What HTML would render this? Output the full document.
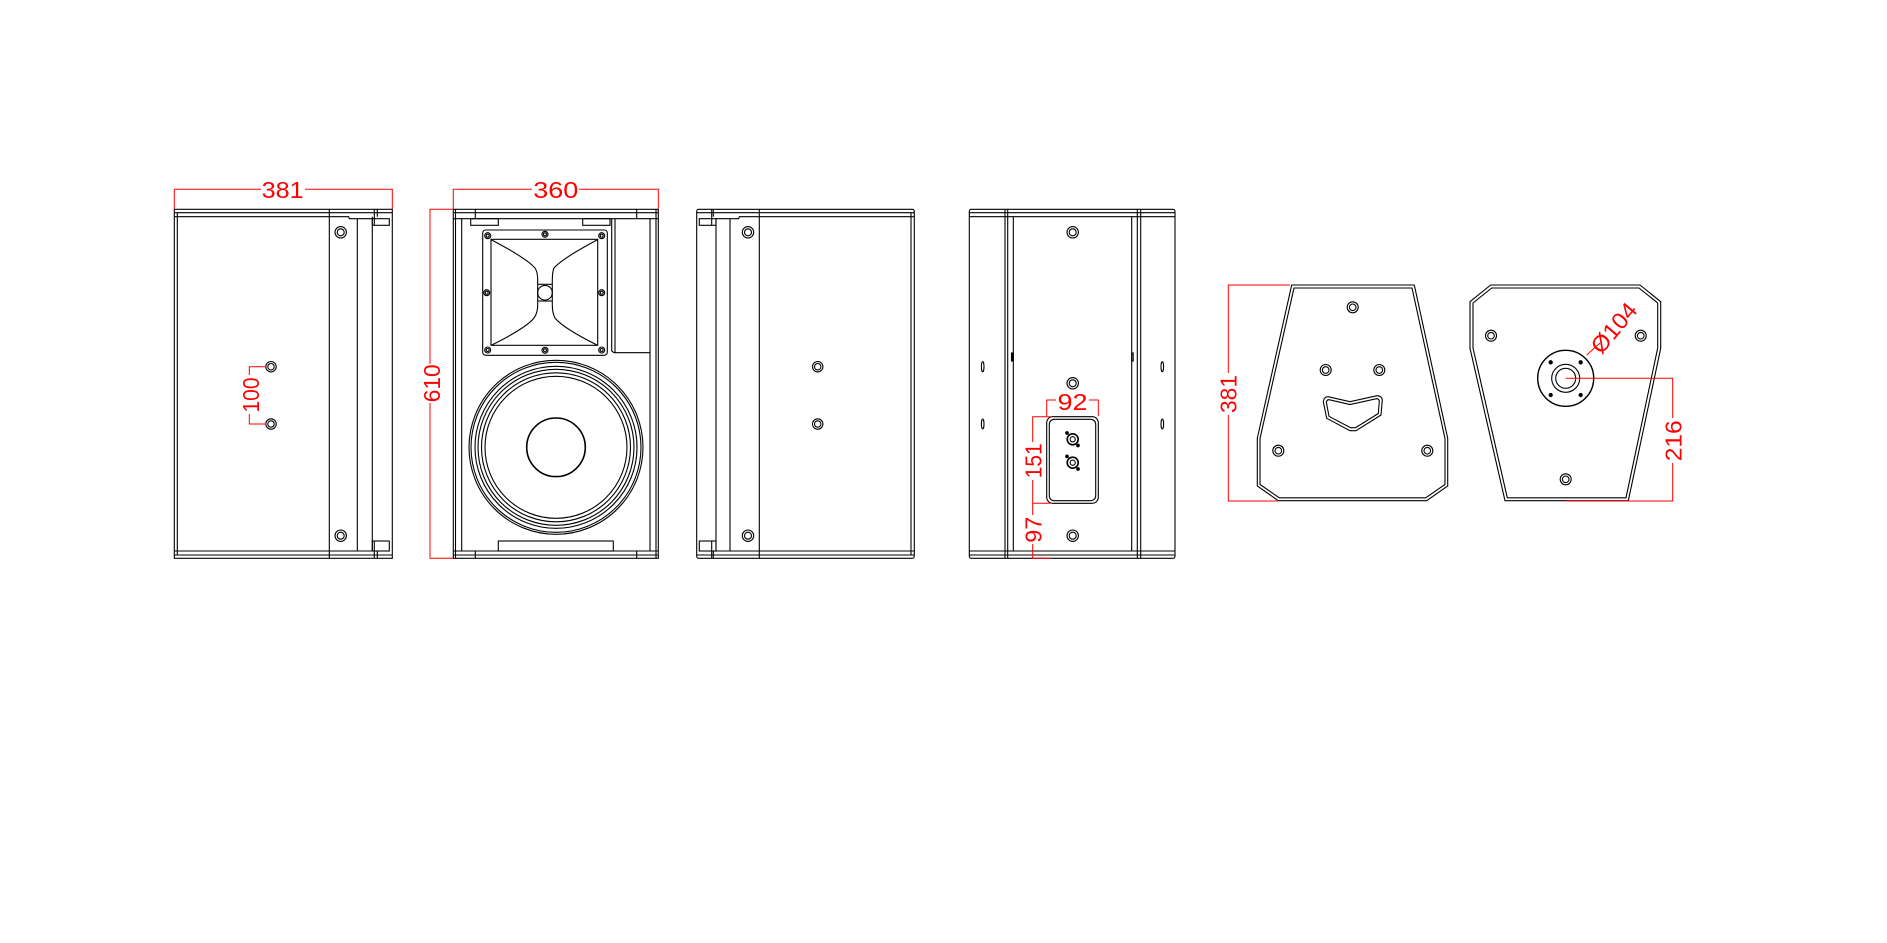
<!DOCTYPE html>
<html><head><meta charset="utf-8"><style>
html,body{margin:0;padding:0;background:#fff;}
svg{display:block;}
.k{fill:none;stroke:#000;stroke-width:1.1;}
.r{fill:none;stroke:#f00;stroke-width:1;}
.t{fill:#f00;font-family:"Liberation Sans",sans-serif;font-size:23px;}
</style></head><body>
<svg width="1887" height="943" viewBox="0 0 1887 943" xmlns="http://www.w3.org/2000/svg">
<rect width="1887" height="943" fill="#fff"/>
<g class="k">
<!-- VIEW 1: left side -->
<rect x="174.3" y="209.3" width="218" height="349"/>
<line x1="177.3" y1="212.7" x2="177.3" y2="555"/>
<line x1="174.3" y1="212.7" x2="392.3" y2="212.7"/>
<line x1="174.3" y1="216.7" x2="349" y2="216.7"/>
<line x1="349" y1="216.7" x2="349" y2="218.7"/>
<line x1="349" y1="218.7" x2="372.3" y2="218.7"/>
<line x1="174.3" y1="551" x2="372.3" y2="551"/>
<line x1="174.3" y1="555" x2="392.3" y2="555"/>
<line x1="329.3" y1="209.3" x2="329.3" y2="558.3"/>
<line x1="357.3" y1="218.7" x2="357.3" y2="551"/>
<line x1="372.3" y1="216.7" x2="372.3" y2="551"/>
<rect x="372.3" y="218.7" width="17" height="6.6"/>
<rect x="372.3" y="541" width="17" height="10"/>
<line x1="374.3" y1="209.3" x2="374.3" y2="225"/>
<line x1="377.3" y1="209.3" x2="377.3" y2="216.7"/>
<line x1="374.3" y1="541" x2="374.3" y2="558.3"/>
<line x1="377.3" y1="551" x2="377.3" y2="558.3"/>
<circle cx="340.7" cy="232.3" r="5.7"/><circle cx="340.7" cy="232.3" r="3.5"/>
<circle cx="340.7" cy="535.7" r="5.7"/><circle cx="340.7" cy="535.7" r="3.5"/>
<circle cx="271" cy="366.7" r="5.2"/><circle cx="271" cy="366.7" r="3.2"/>
<circle cx="271" cy="424" r="5.2"/><circle cx="271" cy="424" r="3.2"/>

<!-- VIEW 2: front -->
<rect x="453.3" y="209.3" width="205" height="349"/>
<line x1="453.3" y1="212.7" x2="658.3" y2="212.7"/>
<line x1="453.3" y1="218.7" x2="658.3" y2="218.7"/>
<line x1="453.3" y1="551" x2="658.3" y2="551"/>
<line x1="453.3" y1="555" x2="658.3" y2="555"/>
<line x1="461.7" y1="218.7" x2="461.7" y2="551"/>
<line x1="650" y1="218.7" x2="650" y2="551"/>
<line x1="455.5" y1="209.3" x2="455.5" y2="558.3"/>
<line x1="656" y1="209.3" x2="656" y2="558.3"/>
<line x1="475.3" y1="209.3" x2="475.3" y2="218.7"/>
<line x1="636.7" y1="209.3" x2="636.7" y2="218.7"/>
<line x1="475.3" y1="551" x2="475.3" y2="558.3"/>
<line x1="636.7" y1="551" x2="636.7" y2="558.3"/>
<rect x="470.7" y="218.7" width="27.6" height="6.6"/>
<rect x="582.7" y="218.7" width="27.3" height="6.6"/>
<line x1="611.7" y1="218.7" x2="611.7" y2="351"/>
<line x1="615" y1="218.7" x2="615" y2="352.7"/>
<line x1="611.7" y1="351" x2="614" y2="352.7"/>
<line x1="614" y1="352.7" x2="650" y2="352.7"/>
<rect x="482.7" y="230" width="124.6" height="125.3" rx="3"/>
<rect x="491" y="239.3" width="106.7" height="106"/>
<path d="M491.7,240 Q526,258 535,268 Q537.7,272 537.7,280 L537.7,305 Q537.7,313 534,318 Q526,328 491.7,345"/>
<path d="M597,240 Q563,258 554,268 Q552.3,272 552.3,280 L552.3,305 Q552.3,313 555,318 Q563,328 597,345"/>
<line x1="537.7" y1="284.3" x2="552.3" y2="284.3"/>
<line x1="537.7" y1="301" x2="552.3" y2="301"/>
<circle cx="545" cy="292.7" r="7.3"/>
<g>
<circle cx="487.7" cy="235.7" r="3"/><circle cx="487.7" cy="235.7" r="1.5"/>
<circle cx="545" cy="234.3" r="3"/><circle cx="545" cy="234.3" r="1.5"/>
<circle cx="601.7" cy="235.7" r="3"/><circle cx="601.7" cy="235.7" r="1.5"/>
<circle cx="486.7" cy="292.7" r="3"/><circle cx="486.7" cy="292.7" r="1.5"/>
<circle cx="601.7" cy="292.7" r="3"/><circle cx="601.7" cy="292.7" r="1.5"/>
<circle cx="487.7" cy="350" r="3"/><circle cx="487.7" cy="350" r="1.5"/>
<circle cx="545" cy="350.3" r="3"/><circle cx="545" cy="350.3" r="1.5"/>
<circle cx="601.7" cy="350" r="3"/><circle cx="601.7" cy="350" r="1.5"/>
</g>
<circle cx="556" cy="447.3" r="87"/>
<circle cx="556" cy="447.3" r="85"/>
<circle cx="556" cy="447.3" r="81"/>
<circle cx="556" cy="447.3" r="78"/>
<circle cx="556" cy="447.3" r="74.5"/>
<circle cx="556" cy="447.3" r="71"/>
<circle cx="556" cy="447.3" r="29.3" stroke-width="1.6"/>
<rect x="498.3" y="541" width="115" height="10"/>

<!-- VIEW 3: right side -->
<rect x="696.7" y="209.3" width="217.6" height="349" rx="2"/>
<line x1="696.7" y1="212.7" x2="914.3" y2="212.7"/>
<line x1="739" y1="216.7" x2="914.3" y2="216.7"/>
<line x1="716" y1="218.7" x2="739" y2="218.7"/>
<line x1="739" y1="216.7" x2="739" y2="218.7"/>
<line x1="716" y1="551" x2="914.3" y2="551"/>
<line x1="696.7" y1="555" x2="914.3" y2="555"/>
<line x1="911" y1="212.7" x2="911" y2="555"/>
<line x1="711.7" y1="209.3" x2="711.7" y2="225"/>
<line x1="713.3" y1="209.3" x2="713.3" y2="216.7"/>
<line x1="711.7" y1="541" x2="711.7" y2="558.3"/>
<line x1="713.3" y1="551" x2="713.3" y2="558.3"/>
<rect x="699.3" y="218.7" width="16.7" height="6.6"/>
<rect x="699.3" y="541" width="16.7" height="10"/>
<line x1="716" y1="218.7" x2="716" y2="551"/>
<line x1="730" y1="218.7" x2="730" y2="551"/>
<line x1="759.3" y1="209.3" x2="759.3" y2="558.3"/>
<circle cx="748" cy="232.3" r="5.7"/><circle cx="748" cy="232.3" r="3.5"/>
<circle cx="748" cy="535.7" r="5.7"/><circle cx="748" cy="535.7" r="3.5"/>
<circle cx="817.7" cy="366.7" r="5.2"/><circle cx="817.7" cy="366.7" r="3.2"/>
<circle cx="817.7" cy="424" r="5.2"/><circle cx="817.7" cy="424" r="3.2"/>

<!-- VIEW 4: back -->
<rect x="969.3" y="209.3" width="205.7" height="349" rx="2"/>
<line x1="969.3" y1="212.7" x2="1175" y2="212.7"/>
<line x1="969.3" y1="216.7" x2="1175" y2="216.7"/>
<line x1="969.3" y1="551" x2="1175" y2="551"/>
<line x1="969.3" y1="555" x2="1175" y2="555"/>
<line x1="1005" y1="209.3" x2="1005" y2="558.3"/>
<line x1="1007.7" y1="209.3" x2="1007.7" y2="558.3"/>
<line x1="1013.3" y1="216.7" x2="1013.3" y2="551"/>
<line x1="1131.7" y1="216.7" x2="1131.7" y2="551"/>
<line x1="1137.3" y1="209.3" x2="1137.3" y2="558.3"/>
<line x1="1140.7" y1="209.3" x2="1140.7" y2="558.3"/>
<rect x="1011.5" y="353" width="1.8" height="8" fill="#000"/>
<rect x="1131.7" y="353" width="1.5" height="8"/>
<ellipse cx="982.7" cy="366.7" rx="1.3" ry="5"/>
<ellipse cx="982.7" cy="424" rx="1.3" ry="5"/>
<ellipse cx="1162.3" cy="366.7" rx="1.3" ry="5"/>
<ellipse cx="1162.3" cy="424" rx="1.3" ry="5"/>
<circle cx="1072.7" cy="232.3" r="5.7"/><circle cx="1072.7" cy="232.3" r="3.5"/>
<circle cx="1072.7" cy="383.3" r="5.7"/><circle cx="1072.7" cy="383.3" r="3.5"/>
<circle cx="1072.7" cy="535.7" r="5.7"/><circle cx="1072.7" cy="535.7" r="3.5"/>
<rect x="1046.7" y="416.7" width="51.6" height="86.6" rx="6"/>
<rect x="1049.3" y="419.3" width="46.4" height="81.4" rx="5"/>
<circle cx="1072.7" cy="439.3" r="5.5" stroke-width="1.6"/><circle cx="1072.7" cy="439.3" r="2.6"/>
<circle cx="1072.7" cy="462.7" r="5.5" stroke-width="1.6"/><circle cx="1072.7" cy="462.7" r="2.6"/>
<circle cx="1067" cy="433" r="1.3" fill="#000"/><circle cx="1078" cy="445.5" r="1.3" fill="#000"/>
<circle cx="1067" cy="456.4" r="1.3" fill="#000"/><circle cx="1078" cy="469" r="1.3" fill="#000"/>

<!-- VIEW 5: top trapezoid -->
<polygon points="1291.7,285 1414.3,285 1447.7,438.3 1447.7,486 1426.7,500.7 1278.3,500.7 1257.3,486 1257.3,438.3"/>
<polygon points="1294,288 1412,288 1445,438.6 1445,484.5 1425.7,497.8 1279.3,497.8 1260,484.5 1260,438.6"/>
<circle cx="1352.7" cy="307.3" r="5.5"/><circle cx="1352.7" cy="307.3" r="3.3"/>
<circle cx="1325.7" cy="370" r="5.5"/><circle cx="1325.7" cy="370" r="3.3"/>
<circle cx="1379.3" cy="370" r="5.5"/><circle cx="1379.3" cy="370" r="3.3"/>
<circle cx="1278.3" cy="450.7" r="5.5"/><circle cx="1278.3" cy="450.7" r="3.3"/>
<circle cx="1427.3" cy="450.7" r="5.5"/><circle cx="1427.3" cy="450.7" r="3.3"/>
<path d="M1328,396.7 L1350,401.7 L1377,395.7 Q1382,396 1382.3,400 L1381,415 L1356,430.7 L1350,430.7 L1326.7,418.3 L1323.3,401.7 Q1324,396.7 1328,396.7 Z"/>
<path d="M1329,399.7 L1350,404.5 L1376.5,398.7 Q1379,399 1379.3,401 L1378.3,413.5 L1355.5,427.7 L1350.5,427.7 L1329,416.3 L1326.3,402 Q1327,399.7 1329,399.7 Z"/>

<!-- VIEW 6: bottom trapezoid -->
<polygon points="1490.7,285 1640,285 1660.7,301.7 1660.7,348.3 1628.3,500.7 1505,500.7 1470,348.3 1470,301.7"/>
<polygon points="1491.7,288 1639,288 1657.7,303 1657.7,348 1626,497.8 1507.3,497.8 1473,348 1473,303"/>
<circle cx="1491" cy="335.7" r="5.5"/><circle cx="1491" cy="335.7" r="3.3"/>
<circle cx="1640.7" cy="335.7" r="5.5"/><circle cx="1640.7" cy="335.7" r="3.3"/>
<circle cx="1565.7" cy="479.3" r="5.5"/><circle cx="1565.7" cy="479.3" r="3.3"/>
<circle cx="1565.7" cy="378.3" r="28" stroke-width="1.4"/>
<circle cx="1565.7" cy="378.3" r="14"/>
<circle cx="1565.7" cy="378.3" r="10"/>
<circle cx="1550.7" cy="362.3" r="1.6" fill="#000"/><circle cx="1580.7" cy="362.3" r="1.6" fill="#000"/>
<circle cx="1550.7" cy="395" r="1.6" fill="#000"/><circle cx="1580.7" cy="395" r="1.6" fill="#000"/>
</g>

<!-- DIMENSIONS -->
<g class="r">
<polyline points="174.3,209 174.3,189.3 261,189.3"/><polyline points="305,189.3 392.3,189.3 392.3,209"/>
<polyline points="453.3,209 453.3,189.3 532,189.3"/><polyline points="579,189.3 658.3,189.3 658.3,209"/>
<polyline points="453,209.3 430,209.3 430,364"/><polyline points="430,403 430,558.3 453,558.3"/>
<polyline points="266,366.7 249.3,366.7 249.3,375"/><polyline points="249.3,414 249.3,424 266,424"/>
<polyline points="1046.7,416 1046.7,400 1056,400"/><polyline points="1089,400 1098.3,400 1098.3,416"/>
<polyline points="1052,416.7 1032.7,416.7 1032.7,442"/><polyline points="1032.7,480 1032.7,515"/>
<line x1="1032.7" y1="503.3" x2="1052" y2="503.3"/>
<polyline points="1032.7,544 1032.7,558.3 1052,558.3"/>
<polyline points="1290,285 1228.3,285 1228.3,373"/><polyline points="1228.3,415 1228.3,501 1278,501"/>
<polyline points="1565.7,378.3 1672.7,378.3 1672.7,418"/><polyline points="1672.7,463 1672.7,501 1565.7,501"/>
<line x1="1586.7" y1="355" x2="1600" y2="343"/>
</g>
<g class="t">
<text x="282.7" y="198" text-anchor="middle" textLength="42" lengthAdjust="spacingAndGlyphs">381</text>
<text x="555.8" y="198" text-anchor="middle" textLength="45" lengthAdjust="spacingAndGlyphs">360</text>
<text transform="translate(440,383.3) rotate(-90)" text-anchor="middle" textLength="38" lengthAdjust="spacingAndGlyphs">610</text>
<text transform="translate(259,395) rotate(-90)" text-anchor="middle" textLength="35" lengthAdjust="spacingAndGlyphs">100</text>
<text x="1072.5" y="410" text-anchor="middle" textLength="30" lengthAdjust="spacingAndGlyphs">92</text>
<text transform="translate(1041.7,460.8) rotate(-90)" text-anchor="middle" textLength="35" lengthAdjust="spacingAndGlyphs">151</text>
<text transform="translate(1041.7,529.7) rotate(-90)" text-anchor="middle" textLength="26" lengthAdjust="spacingAndGlyphs">97</text>
<text transform="translate(1236.7,394) rotate(-90)" text-anchor="middle" textLength="38" lengthAdjust="spacingAndGlyphs">381</text>
<text transform="translate(1681.7,440.8) rotate(-90)" text-anchor="middle" textLength="41" lengthAdjust="spacingAndGlyphs">216</text>
<text transform="translate(1620,333) rotate(-50)" text-anchor="middle" textLength="58" lengthAdjust="spacingAndGlyphs">Ø104</text>
</g>
</svg>
</body></html>
